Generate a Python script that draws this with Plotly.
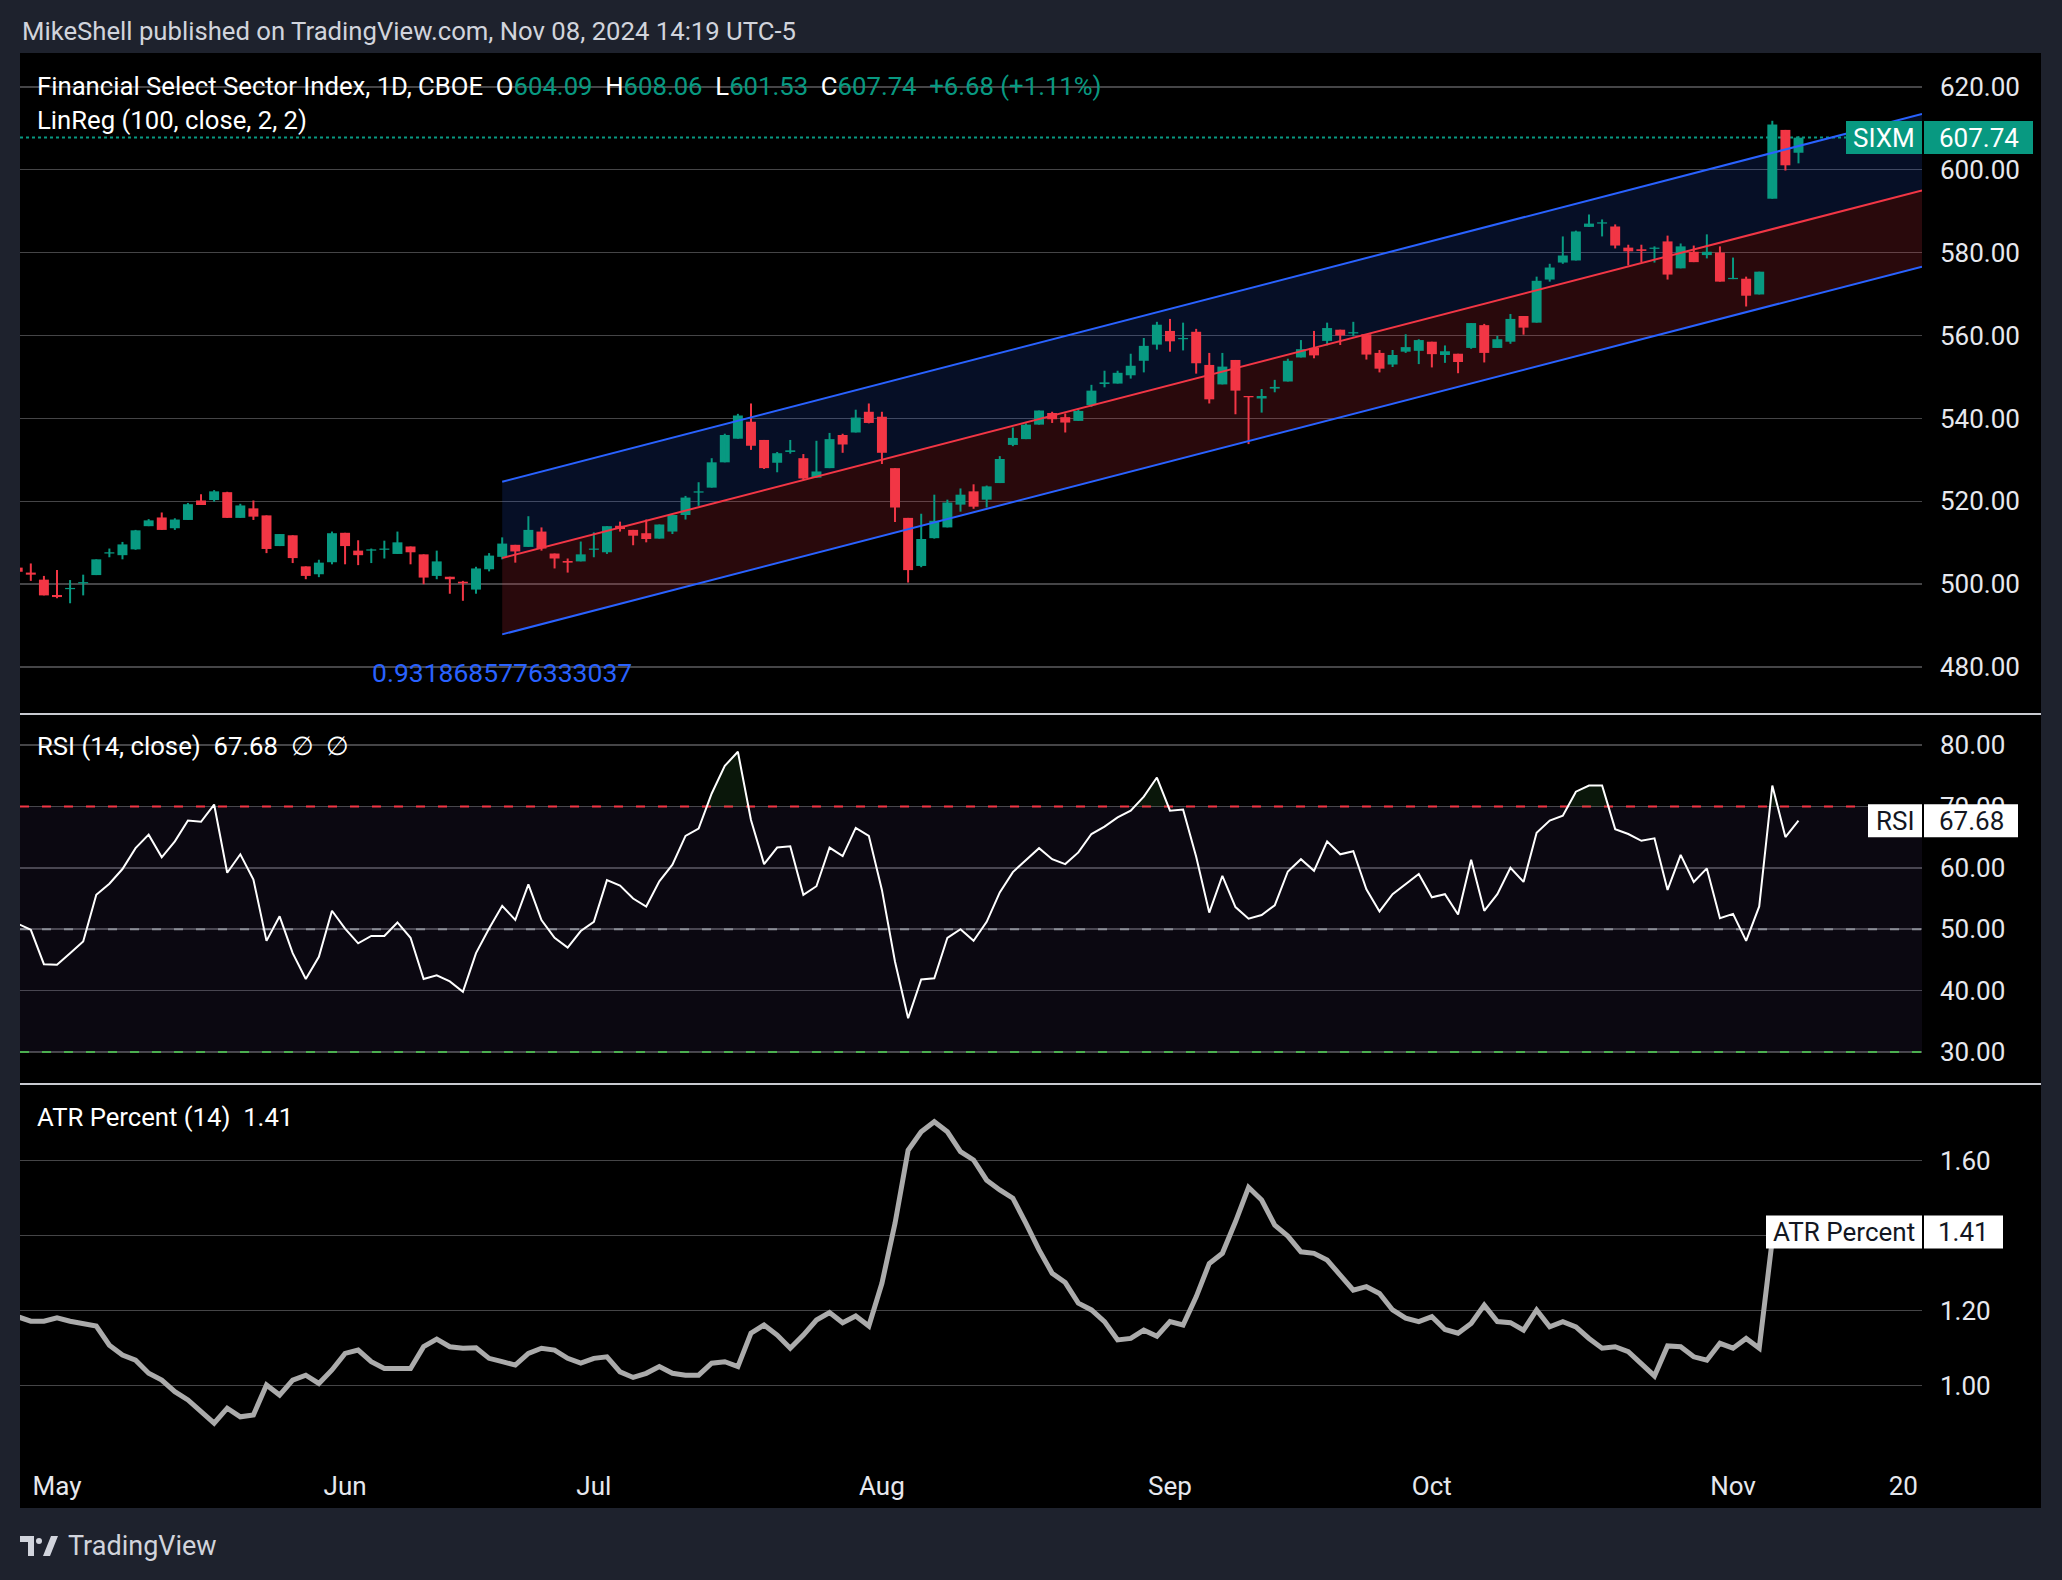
import plotly.graph_objects as go

W, H = 2062, 1580

# ---------------- data ----------------
bar_index = list(range(-3, 134))  # 0 = May 1 2024, 133 = Nov 8 2024

opens = [504.0, 502.8, 501.1, 497.4, 498.8, 500.2, 502.2, 507.4, 507.0, 508.4,
         514.0, 516.1, 513.5, 515.5, 520.2, 520.3, 522.2, 516.0, 518.3, 516.6,
         509.2, 511.8, 504.3, 502.4, 505.3, 512.4, 508.1, 508.1, 508.3, 507.3,
         509.1, 507.2, 502.0, 501.8, 500.6, 498.7, 503.6, 506.6, 509.5, 509.0,
         512.7, 507.4, 505.6, 505.5, 508.3, 507.7, 514.1, 513.1, 512.3, 511.0,
         512.7, 516.7, 522.1, 523.3, 529.4, 535.1, 539.2, 534.8, 529.3, 531.9,
         530.4, 525.7, 528.0, 536.0, 536.6, 541.6, 540.4, 528.0, 516.0, 504.4,
         511.1, 513.7, 519.2, 522.4, 520.4, 524.4, 533.6, 535.0, 538.5, 541.3,
         540.3, 539.4, 543.2, 548.3, 548.4, 550.4, 553.9, 557.8, 561.1, 559.1,
         560.9, 552.9, 548.2, 554.1, 545.4, 544.8, 547.2, 548.9, 554.7, 557.0,
         558.7, 561.4, 560.5, 560.3, 555.8, 553.0, 556.1, 556.3, 558.5, 555.3,
         555.6, 557.0, 562.5, 557.0, 558.5, 564.7, 563.1, 573.5, 577.6, 578.1,
         586.2, 587.0, 586.3, 581.2, 580.8, 580.9, 582.7, 576.2, 580.2, 579.4,
         580.0, 573.6, 573.7, 569.9, 593.0, 609.6, 604.09]

highs = [504.3, 505.0, 502.0, 503.4, 501.0, 502.3, 506.0, 508.6, 510.2, 513.1,
         515.7, 517.3, 515.9, 519.6, 521.7, 522.7, 522.3, 519.4, 520.2, 516.6,
         512.1, 511.8, 504.3, 505.9, 512.7, 512.4, 510.6, 508.6, 510.5, 512.7,
         509.1, 507.2, 508.1, 501.8, 500.8, 504.2, 507.5, 511.3, 509.5, 516.4,
         513.7, 507.4, 506.2, 510.3, 512.5, 514.0, 515.1, 513.1, 515.6, 514.4,
         516.7, 521.3, 524.6, 530.4, 536.3, 541.1, 543.6, 534.8, 531.9, 534.8,
         531.4, 534.6, 536.5, 536.3, 542.1, 543.6, 541.6, 528.0, 516.0, 517.0,
         521.6, 520.4, 523.1, 524.1, 523.8, 530.9, 537.8, 538.8, 541.9, 541.6,
         541.2, 542.2, 548.1, 551.5, 551.5, 555.6, 559.4, 563.3, 564.0, 563.1,
         561.6, 555.8, 555.8, 554.1, 545.4, 547.1, 549.3, 554.4, 558.9, 561.1,
         563.1, 561.4, 563.3, 560.3, 556.5, 556.5, 560.3, 559.1, 558.5, 557.6,
         555.6, 563.0, 562.8, 559.9, 565.2, 564.7, 574.2, 577.3, 583.9, 585.3,
         589.2, 588.0, 586.8, 581.9, 581.9, 581.5, 584.1, 582.2, 581.7, 584.4,
         581.5, 578.8, 574.2, 575.4, 611.8, 609.6, 608.06]

lows = [502.8, 500.8, 497.3, 496.6, 495.4, 497.3, 502.2, 506.5, 506.0, 508.3,
        514.0, 513.1, 513.1, 515.5, 519.1, 519.9, 516.0, 516.0, 515.5, 507.5,
        509.2, 505.1, 501.2, 501.7, 504.8, 504.8, 504.6, 505.1, 506.2, 507.3,
        504.8, 500.0, 501.2, 497.7, 496.0, 497.7, 503.1, 506.0, 505.2, 509.0,
        508.1, 503.8, 502.8, 505.5, 506.5, 507.3, 512.7, 509.4, 510.1, 511.0,
        512.1, 515.6, 518.9, 523.3, 529.4, 535.1, 532.4, 527.8, 527.0, 531.5,
        525.1, 525.7, 528.0, 531.7, 536.6, 538.8, 529.0, 515.0, 500.4, 504.1,
        511.0, 513.7, 517.5, 518.2, 518.5, 524.4, 533.3, 535.0, 538.5, 538.9,
        536.6, 539.4, 542.8, 547.5, 548.4, 549.6, 551.1, 556.6, 556.1, 556.4,
        550.8, 543.6, 548.2, 541.0, 533.8, 541.4, 546.3, 548.9, 554.7, 554.5,
        557.6, 557.7, 559.8, 554.2, 551.1, 552.4, 555.8, 553.1, 552.3, 553.4,
        550.9, 556.8, 553.5, 557.0, 558.0, 560.2, 563.1, 573.0, 577.3, 578.1,
        586.2, 583.9, 581.0, 576.9, 577.7, 577.6, 573.5, 576.2, 577.7, 578.6,
        573.0, 573.6, 567.0, 569.9, 593.0, 599.8, 601.53]

closes = [503.0, 502.3, 497.3, 496.9, 499.0, 500.4, 506.0, 507.7, 509.6, 513.0,
          515.4, 513.1, 515.6, 519.3, 519.1, 522.4, 516.0, 519.0, 516.3, 508.5,
          512.1, 506.3, 502.0, 505.2, 512.3, 509.2, 507.0, 508.4, 508.6, 510.1,
          507.7, 501.6, 505.5, 501.2, 500.2, 503.8, 506.9, 509.8, 507.9, 513.1,
          508.6, 506.2, 505.2, 507.2, 508.6, 514.0, 513.3, 511.7, 510.9, 514.4,
          516.7, 520.9, 522.3, 529.4, 536.0, 540.7, 533.4, 528.0, 531.6, 532.3,
          525.5, 527.2, 535.0, 533.7, 540.2, 538.9, 531.7, 518.5, 503.4, 510.9,
          515.3, 519.7, 521.6, 518.7, 523.6, 530.2, 535.3, 538.5, 541.9, 539.8,
          539.0, 541.8, 546.7, 548.7, 551.0, 552.7, 557.5, 562.6, 558.6, 559.4,
          553.3, 544.6, 552.5, 546.7, 545.1, 545.4, 547.6, 553.9, 556.7, 555.2,
          561.8, 560.0, 560.8, 555.4, 552.0, 555.3, 557.2, 558.9, 555.5, 556.2,
          553.6, 563.0, 555.8, 559.1, 564.0, 561.9, 573.2, 576.4, 579.3, 585.1,
          587.0, 587.3, 581.7, 580.3, 580.4, 581.2, 574.7, 581.5, 577.7, 580.2,
          573.0, 573.9, 569.6, 575.4, 610.9, 601.06, 607.74]

rsi = [50.9, 49.9, 44.3, 44.2, 46.1, 48.0, 55.6, 57.4, 59.8, 63.2,
       65.4, 61.7, 64.3, 67.7, 67.5, 70.3, 59.2, 62.2, 58.1, 48.1,
       52.1, 46.1, 41.9, 45.5, 53.0, 50.1, 47.7, 48.9, 48.9, 51.1,
       48.6, 41.9, 42.5, 41.5, 39.8, 46.1, 50.1, 53.8, 51.5, 57.3,
       51.5, 48.6, 47.0, 49.7, 51.2, 58.0, 57.1, 55.0, 53.7, 57.8,
       60.5, 65.2, 66.4, 72.1, 76.6, 78.9, 67.8, 60.6, 63.3, 63.5,
       55.6, 57.0, 63.3, 61.9, 66.5, 65.2, 56.4, 44.7, 35.5, 41.8,
       42.0, 48.6, 50.0, 48.1, 51.2, 56.0, 59.3, 61.3, 63.2, 61.4,
       60.6, 62.5, 65.5, 66.7, 68.2, 69.3, 71.6, 74.7, 69.3, 69.5,
       61.8, 52.7, 58.7, 53.6, 51.7, 52.3, 53.9, 59.4, 61.4, 59.5,
       64.3, 62.2, 62.7, 56.5, 52.9, 55.7, 57.4, 59.0, 55.2, 55.7,
       52.4, 61.3, 53.0, 55.7, 60.0, 57.7, 65.7, 67.7, 68.5, 72.4,
       73.4, 73.4, 66.3, 65.5, 64.4, 64.8, 56.4, 62.1, 57.7, 59.9,
       51.8, 52.5, 48.1, 53.7, 73.4, 65.0, 67.68]

atr_pct = [1.184, 1.172, 1.172, 1.181, 1.172, 1.166, 1.159, 1.108, 1.082, 1.068,
           1.033, 1.015, 0.984, 0.962, 0.931, 0.900, 0.940, 0.917, 0.922, 1.002,
           0.975, 1.015, 1.028, 1.006, 1.042, 1.086, 1.095, 1.064, 1.046, 1.046,
           1.046, 1.104, 1.124, 1.104, 1.100, 1.101, 1.073, 1.064, 1.055, 1.086,
           1.100, 1.095, 1.073, 1.060, 1.073, 1.077, 1.037, 1.022, 1.033, 1.051,
           1.033, 1.028, 1.028, 1.060, 1.064, 1.051, 1.140, 1.162, 1.135, 1.100,
           1.135, 1.175, 1.195, 1.168, 1.186, 1.159, 1.273, 1.433, 1.628, 1.677,
           1.704, 1.677, 1.624, 1.602, 1.548, 1.522, 1.500, 1.433, 1.362, 1.300,
           1.275, 1.220, 1.202, 1.171, 1.122, 1.126, 1.148, 1.132, 1.171, 1.162,
           1.237, 1.326, 1.353, 1.437, 1.529, 1.495, 1.428, 1.399, 1.357, 1.353,
           1.335, 1.295, 1.255, 1.264, 1.246, 1.202, 1.180, 1.171, 1.184, 1.150,
           1.140, 1.166, 1.215, 1.171, 1.168, 1.148, 1.202, 1.157, 1.171, 1.157,
           1.126, 1.100, 1.104, 1.091, 1.060, 1.026, 1.106, 1.104, 1.077, 1.068,
           1.113, 1.100, 1.126, 1.100, 1.39, 1.40, 1.41]

month_tick_idx = [0, 22, 41, 63, 85, 105, 128, 141]
month_tick_text = ["May", "Jun", "Jul", "Aug", "Sep", "Oct", "Nov", "20"]

price_ticks = [480, 500, 520, 540, 560, 580, 600, 620]
rsi_ticks = [30, 40, 50, 60, 70, 80]
atr_ticks = [1.0, 1.2, 1.4, 1.6]

linreg_start_bar = 34
linreg_end_bar = 133
linreg_center_start = 506.3
linreg_center_end = 587.3
linreg_dev = 18.4
pearson_r = "0.9318685776333037"

symbol = "SIXM"
title_name = "Financial Select Sector Index, 1D, CBOE"
header_text = "MikeShell published on TradingView.com, Nov 08, 2024 14:19 UTC-5"

# ---------------- styling / layout helpers ----------------
GREEN = "#089981"
RED = "#f23645"
BLUE = "#2962ff"
TXT = "#d1d4dc"
FONT = "Roboto"
BG = "#1e222d"
GRID = "#454547"
TFS = 25.7   # text font size
AFS = 26     # axis font size


def fx(px):
    return px / W


def fy(py):
    return 1 - py / H


X0_PX, X1_PX = 20, 1922
BAR0_PX, BAR_STEP = 57.0, 13.094
x_range = [(X0_PX - BAR0_PX) / BAR_STEP, (X1_PX - BAR0_PX) / BAR_STEP]

MAIN_TOP, MAIN_BOT = 53, 714
RSI_TOP, RSI_BOT = 714, 1084
ATR_TOP, ATR_BOT = 1084, 1462
PANEL_L, PANEL_R, PANEL_T, PANEL_B = 20, 2041, 53, 1508


def prange(top_px, bot_px, v_ref, px_ref, px_per_unit):
    top = v_ref + (px_ref - top_px) / px_per_unit
    bot = v_ref - (bot_px - px_ref) / px_per_unit
    return [bot, top]


main_range = prange(MAIN_TOP, MAIN_BOT, 620, 86.8, 4.145)
rsi_range = prange(RSI_TOP, RSI_BOT, 80, 745, 6.14)
atr_range = prange(ATR_TOP, ATR_BOT, 1.6, 1160.7, 375.0)

fig = go.Figure()

# ---------------- candles ----------------
colors = [GREEN if c >= o else RED for o, c in zip(opens, closes)]
bases = [min(o, c) for o, c in zip(opens, closes)]
heights = [max(abs(c - o), 0.3) for o, c in zip(opens, closes)]
fig.add_trace(go.Bar(x=bar_index, y=heights, base=bases, width=0.76,
                     marker=dict(color=colors, line=dict(width=0)),
                     xaxis="x", yaxis="y", hoverinfo="skip"))
for col in (GREEN, RED):
    wx, wy = [], []
    for i, o, h, l, c, cc in zip(bar_index, opens, highs, lows, closes, colors):
        if cc == col:
            wx += [i, i, None]
            wy += [l, h, None]
    fig.add_trace(go.Scatter(x=wx, y=wy, mode="lines", line=dict(color=col, width=2),
                             xaxis="x", yaxis="y", hoverinfo="skip"))

# ---------------- linear regression channel ----------------
slope = (linreg_center_end - linreg_center_start) / (linreg_end_bar - linreg_start_bar)
xl, xr = x_range
c0 = linreg_center_start
cr = linreg_center_start + slope * (xr - linreg_start_bar)
xs = linreg_start_bar
shapes = []
shapes.append(dict(type="path", xref="x", yref="y", layer="between",
                   path=f"M {xs},{c0 + linreg_dev} L {xr},{cr + linreg_dev} L {xr},{cr} L {xs},{c0} Z",
                   fillcolor="rgba(41,98,255,0.15)", line=dict(width=0)))
shapes.append(dict(type="path", xref="x", yref="y", layer="between",
                   path=f"M {xs},{c0} L {xr},{cr} L {xr},{cr - linreg_dev} L {xs},{c0 - linreg_dev} Z",
                   fillcolor="rgba(242,54,69,0.17)", line=dict(width=0)))
for off, col in ((linreg_dev, BLUE), (0, RED), (-linreg_dev, BLUE)):
    fig.add_trace(go.Scatter(x=[xs, xr], y=[c0 + off, cr + off], mode="lines",
                             line=dict(color=col, width=2), xaxis="x", yaxis="y",
                             hoverinfo="skip"))

# last price dotted line
shapes.append(dict(type="line", xref="x", yref="y", x0=xl, x1=xr,
                   y0=closes[-1], y1=closes[-1], layer="between",
                   line=dict(color=GREEN, width=2, dash="dot")))

# ---------------- RSI ----------------
shapes.append(dict(type="rect", xref="x2", yref="y2", x0=xl, x1=xr, y0=30, y1=70,
                   layer="between", fillcolor="rgba(126,87,194,0.09)", line=dict(width=0)))
for lvl, col in ((70, RED), (50, "#8a8d96"), (30, "#4caf50")):
    shapes.append(dict(type="line", xref="x2", yref="y2", x0=xl, x1=xr, y0=lvl, y1=lvl,
                       layer="between", line=dict(color=col, width=2, dash="9px,13px")))


def above_polys(xv, yv, level):
    polys, cur = [], None
    for i in range(len(xv)):
        x, y = xv[i], yv[i]
        if y > level:
            if cur is None:
                if i > 0:
                    xa, ya = xv[i - 1], yv[i - 1]
                    cur = [(xa + (level - ya) * (x - xa) / (y - ya), level)]
                else:
                    cur = [(x, level)]
            cur.append((x, y))
        elif cur is not None:
            xa, ya = xv[i - 1], yv[i - 1]
            cur.append((xa + (ya - level) * (x - xa) / (ya - y), level))
            polys.append(cur)
            cur = None
    if cur is not None:
        cur.append((cur[-1][0], level))
        polys.append(cur)
    return polys


for poly in above_polys(bar_index, rsi, 70):
    fig.add_trace(go.Scatter(x=[p[0] for p in poly], y=[p[1] for p in poly], fill="toself",
                             mode="none", fillcolor="rgba(76,175,80,0.13)",
                             xaxis="x2", yaxis="y2", hoverinfo="skip"))

fig.add_trace(go.Scatter(x=bar_index, y=rsi, mode="lines", line=dict(color="#ffffff", width=2),
                         xaxis="x2", yaxis="y2", hoverinfo="skip"))

# ---------------- ATR percent ----------------
fig.add_trace(go.Scatter(x=bar_index, y=atr_pct, mode="lines",
                         line=dict(color="#ababab", width=5),
                         xaxis="x3", yaxis="y3", hoverinfo="skip"))

# ---------------- frame / panel ----------------
shapes.insert(0, dict(type="rect", xref="paper", yref="paper", layer="below",
                      x0=fx(PANEL_L), x1=fx(PANEL_R), y0=fy(PANEL_B), y1=fy(PANEL_T),
                      fillcolor="#000000", line=dict(width=0)))
for sep in (MAIN_BOT, RSI_BOT):
    shapes.append(dict(type="line", xref="paper", yref="paper", layer="above",
                       x0=fx(PANEL_L), x1=fx(PANEL_R), y0=fy(sep), y1=fy(sep),
                       line=dict(color="#c8cad0", width=2)))

annotations = []


def label_box(yref, yval, half_h, lx0, lx1, vx0, vx1, name, value, bg, fg):
    for a, b in ((lx0, lx1), (vx0, vx1)):
        shapes.append(dict(type="rect", xref="paper", yref=yref, layer="above",
                           x0=fx(a), x1=fx(b), y0=yval - half_h, y1=yval + half_h,
                           fillcolor=bg, line=dict(width=0)))
    annotations.append(dict(xref="paper", yref=yref, x=fx((lx0 + lx1) / 2), y=yval,
                            text=name, showarrow=False, xanchor="center", yanchor="middle",
                            font=dict(family=FONT, size=AFS, color=fg)))
    annotations.append(dict(xref="paper", yref=yref, x=fx((vx0 + vx1) / 2), y=yval,
                            text=value, showarrow=False, xanchor="center", yanchor="middle",
                            font=dict(family=FONT, size=AFS, color=fg)))


label_box("y", closes[-1], 16.5 / 4.145, 1846, 1922, 1924, 2033, symbol,
          f"{closes[-1]:.2f}", GREEN, "#ffffff")
label_box("y2", rsi[-1], 16.5 / 6.14, 1868, 1922, 1924, 2018, "RSI",
          f"{rsi[-1]:.2f}", "#ffffff", "#131722")
label_box("y3", atr_pct[-1], 16.5 / 375.0, 1766, 1922, 1924, 2003, "ATR Percent",
          f"{atr_pct[-1]:.2f}", "#ffffff", "#131722")


def g(v):
    return f"<span style='color:{GREEN}'>{v}</span>"


chg = closes[-1] - closes[-2]
chg_pct = chg / closes[-2] * 100
NB = "\u00a0"
title_line = (f"{title_name}{NB}{NB}O{g(f'{opens[-1]:.2f}')}{NB}{NB}H{g(f'{highs[-1]:.2f}')}"
              f"{NB}{NB}L{g(f'{lows[-1]:.2f}')}{NB}{NB}C{g(f'{closes[-1]:.2f}')}"
              f"{NB}{NB}{g(f'{chg:+.2f} ({chg_pct:+.2f}%)')}")


def txt(px, py, text, size=TFS, color="#ffffff"):
    annotations.append(dict(xref="paper", yref="paper", x=fx(px), y=fy(py), text=text,
                            showarrow=False, xanchor="left", yanchor="middle",
                            font=dict(family=FONT, size=size, color=color)))


txt(20, 31, header_text, TFS, TXT)
txt(35, 86, title_line, TFS, "#ffffff")
txt(35, 120, "LinReg (100, close, 2, 2)", TFS, "#ffffff")
txt(35, 746, f"RSI (14, close){NB}{NB}{rsi[-1]:.2f}{NB}{NB}\u2205{NB}{NB}\u2205", TFS, "#ffffff")
txt(35, 1117, f"ATR Percent (14){NB}{NB}{atr_pct[-1]:.2f}", TFS, "#ffffff")
txt(66, 1546, "TradingView", 27, TXT)

annotations.append(dict(xref="x", yref="y", x=linreg_start_bar, y=478.6, text=pearson_r,
                        showarrow=False, xanchor="center", yanchor="middle",
                        font=dict(family=FONT, size=26.5, color=BLUE)))

# TradingView logo (simple shapes)
shapes.append(dict(type="path", xref="paper", yref="paper", layer="above",
                   path=(f"M {fx(20)},{fy(1536)} L {fx(34)},{fy(1536)} L {fx(34)},{fy(1556)} "
                         f"L {fx(28)},{fy(1556)} L {fx(28)},{fy(1542)} L {fx(20)},{fy(1542)} Z"),
                   fillcolor=TXT, line=dict(width=0)))
shapes.append(dict(type="circle", xref="paper", yref="paper", layer="above",
                   x0=fx(36), x1=fx(42), y0=fy(1544), y1=fy(1538),
                   fillcolor=TXT, line=dict(width=0)))
shapes.append(dict(type="path", xref="paper", yref="paper", layer="above",
                   path=(f"M {fx(43)},{fy(1556)} L {fx(51)},{fy(1536)} L {fx(58)},{fy(1536)} "
                         f"L {fx(50)},{fy(1556)} Z"),
                   fillcolor=TXT, line=dict(width=0)))

# ---------------- axes ----------------
xdom = [fx(X0_PX), fx(X1_PX)]
tickfont = dict(family=FONT, size=AFS, color="#e6e8ee")
common_x = dict(domain=xdom, range=x_range, showgrid=False, zeroline=False,
                showline=False, fixedrange=True)
common_y = dict(side="right", showgrid=True, gridcolor=GRID, gridwidth=1.5,
                zeroline=False, showline=False, ticks="", tickfont=tickfont,
                tickformat=".2f", ticklabelstandoff=17, fixedrange=True)

fig.update_layout(
    width=W, height=H,
    margin=dict(l=0, r=0, t=0, b=0),
    paper_bgcolor=BG, plot_bgcolor="rgba(0,0,0,0)",
    showlegend=False, hovermode=False,
    xaxis=dict(**common_x, anchor="y", showticklabels=False),
    xaxis2=dict(**common_x, anchor="y2", matches="x", showticklabels=False),
    xaxis3=dict(**common_x, anchor="y3", matches="x", showticklabels=True,
                tickmode="array", tickvals=month_tick_idx, ticktext=month_tick_text,
                tickfont=tickfont, ticks="", ticklabelstandoff=6),
    yaxis=dict(**common_y, anchor="x", domain=[fy(MAIN_BOT), fy(MAIN_TOP)], range=main_range,
               tickmode="array", tickvals=price_ticks),
    yaxis2=dict(**common_y, anchor="x2", domain=[fy(RSI_BOT), fy(RSI_TOP)], range=rsi_range,
                tickmode="array", tickvals=rsi_ticks),
    yaxis3=dict(**common_y, anchor="x3", domain=[fy(ATR_BOT), fy(ATR_TOP)], range=atr_range,
                tickmode="array", tickvals=atr_ticks),
    shapes=shapes,
    annotations=annotations,
)

fig.write_html("out.html", config={"displayModeBar": False, "staticPlot": True},
               post_script="document.body.style.margin='0';document.body.style.padding='0';")
